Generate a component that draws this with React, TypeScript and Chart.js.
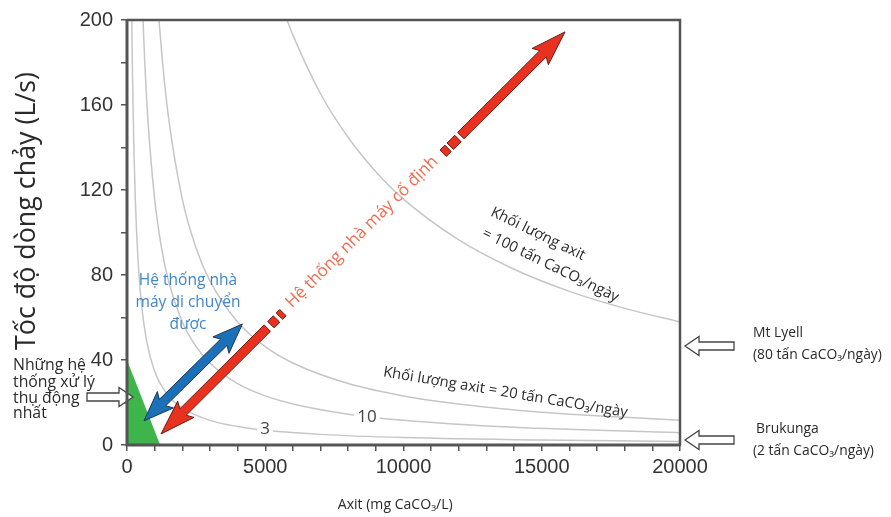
import React, { useEffect, useRef } from 'react';
import { Chart, registerables } from 'chart.js';
Chart.register(...registerables);

// ---------- data ----------
const acidTickLabels = ['0', '5000', '10000', '15000', '20000'];
const flowTickLabels = ['0', '40', '80', '120', '160', '200'];

// constant acid-load curves: acid (mg CaCO3/L) vs flow (L/s)
const load100Acid = [5790, 6000, 7000, 8000, 9000, 10000, 12000, 14000, 16000, 18000, 20000];
const load100Flow = [199.9, 192.9, 165.3, 144.7, 128.6, 115.7, 96.5, 82.7, 72.3, 64.3, 57.9];
const load20Acid = [1158, 1300, 1500, 2000, 2500, 3000, 4000, 5000, 6000, 8000, 10000, 12000, 15000, 20000];
const load20Flow = [199.9, 178.1, 154.3, 115.7, 92.6, 77.2, 57.9, 46.3, 38.6, 28.9, 23.1, 19.3, 15.4, 11.6];
const load10Acid = [579, 650, 750, 1000, 1250, 1500, 2000, 2500, 3000, 4000, 5000, 6000, 8000, 10000, 14000, 20000];
const load10Flow = [199.9, 178.1, 154.3, 115.7, 92.6, 77.2, 57.9, 46.3, 38.6, 28.9, 23.1, 19.3, 14.5, 11.6, 8.3, 5.8];
const load3Acid = [174, 200, 250, 300, 400, 500, 700, 1000, 1500, 2000, 3000, 4000, 5000, 7000, 10000, 15000, 20000];
const load3Flow = [199.6, 173.6, 138.9, 115.7, 86.8, 69.4, 49.6, 34.7, 23.1, 17.4, 11.6, 8.7, 6.9, 5.0, 3.5, 2.3, 1.7];

// passive treatment zone (triangle)
const passiveAcid = [0, 1200];
const passiveFlow = [40, 0];

// arrows: [acid, flow] points
const mobileArrow = [[615, 11.4], [4172, 56.9]];
const fixedLowArrow = [[5074, 55.0], [1230, 5.2]];
const fixedLowDashes = [[[5204, 56.6], [5407, 59.3]], [[5512, 60.6], [5638, 62.3]]];
const fixedHighDashes = [[[11432, 137.3], [11613, 139.6]], [[11689, 140.6], [11971, 144.2]]];
const fixedHighArrow = [[12072, 145.6], [15841, 194.4]];

// reference-site markers (flow at 20000 mg/L)
const mtLyellFlow = 46.6;
const brukungaFlow = 2.35;
const passiveMarkerFlow = 22.6;

// text
const yTitle = 'Tốc độ dòng chảy (L/s)';
const xTitle = 'Axit (mg CaCO₃/L)';
const mobileLines = ['Hệ thống nhà', 'máy di chuyển', 'được'];
const fixedLabel = 'Hệ thống nhà máy cố định';
const load100Lines = ['Khối lượng axit', '= 100 tấn CaCO₃/ngày'];
const load20Label = 'Khối lượng axit = 20 tấn CaCO₃/ngày';
const passiveLines = ['Những hệ', 'thống xử lý', 'thụ động', 'nhất'];
const mtLyellLines = ['Mt Lyell', '(80 tấn CaCO₃/ngày)'];
const brukungaLines = ['Brukunga', '(2 tấn CaCO₃/ngày)'];

const SANS = '"Open Sans", "Noto Sans", "DejaVu Sans", sans-serif';

function fitSize(ctx: CanvasRenderingContext2D, text: string, target: number, family = SANS) {
  ctx.font = `100px ${family}`;
  return (100 * target) / ctx.measureText(text).width;
}

function arrowPath(
  ctx: CanvasRenderingContext2D,
  x1: number, y1: number, x2: number, y2: number,
  sw: number, hw: number, hl: number, startHead: boolean, endHead: boolean, sweep = 0
) {
  const dx = x2 - x1, dy = y2 - y1, L = Math.hypot(dx, dy);
  const ux = dx / L, uy = dy / L, nx = -uy, ny = ux;
  const ax = startHead ? x1 + ux * hl : x1, ay = startHead ? y1 + uy * hl : y1;
  const bx = endHead ? x2 - ux * hl : x2, by = endHead ? y2 - uy * hl : y2;
  ctx.beginPath();
  ctx.moveTo(ax + nx * sw / 2, ay + ny * sw / 2);
  ctx.lineTo(bx + nx * sw / 2, by + ny * sw / 2);
  if (endHead) {
    ctx.lineTo(bx - ux * sweep + nx * hw / 2, by - uy * sweep + ny * hw / 2);
    ctx.lineTo(x2, y2);
    ctx.lineTo(bx - ux * sweep - nx * hw / 2, by - uy * sweep - ny * hw / 2);
  }
  ctx.lineTo(bx - nx * sw / 2, by - ny * sw / 2);
  ctx.lineTo(ax - nx * sw / 2, ay - ny * sw / 2);
  if (startHead) {
    ctx.lineTo(ax + ux * sweep - nx * hw / 2, ay + uy * sweep - ny * hw / 2);
    ctx.lineTo(x1, y1);
    ctx.lineTo(ax + ux * sweep + nx * hw / 2, ay + uy * sweep + ny * hw / 2);
  }
  ctx.closePath();
}

const annotate = {
  id: 'annotate',
  afterDatasetsDraw(chart: any) {
    const { ctx, scales, chartArea } = chart;
    const xs = scales.x, ys = scales.y;
    const P = (a: number, f: number) => [xs.getPixelForValue(a), ys.getPixelForValue(f)];
    ctx.save();

    const text = (t: string, a: number, f: number, size: number, color: string, angleDeg = 0, align: CanvasTextAlign = 'center', bg = false) => {
      const [px, py] = P(a, f);
      ctx.save();
      ctx.translate(px, py);
      ctx.rotate((angleDeg * Math.PI) / 180);
      ctx.font = `${size}px ${SANS}`;
      ctx.textAlign = align;
      ctx.textBaseline = 'middle';
      if (bg) {
        const w = ctx.measureText(t).width;
        ctx.fillStyle = '#ffffff';
        ctx.fillRect(-w / 2 - 3, -size * 0.55, w + 6, size * 1.1);
      }
      ctx.fillStyle = color;
      ctx.fillText(t, 0, 0);
      ctx.restore();
    };

    // curve labels
    text('10', 8680, 13.2, 17, '#444', 0, 'center', true);
    text('3', 4991, 7.5, 17, '#444', 0, 'center', true);

    // load labels
    const s100 = fitSize(ctx, load100Lines[1], 150);
    text(load100Lines[0], 14864, 99.3, s100, '#2a2a2a', 26);
    text(load100Lines[1], 15316, 84.5, s100, '#2a2a2a', 26);
    const s20 = fitSize(ctx, load20Label, 248);
    text(load20Label, 13689, 24.7, s20, '#2a2a2a', 9.5);

    // mobile (blue) double arrow
    {
      const [x1, y1] = P(mobileArrow[0][0], mobileArrow[0][1]);
      const [x2, y2] = P(mobileArrow[1][0], mobileArrow[1][1]);
      arrowPath(ctx, x1, y1, x2, y2, 9, 23, 26, true, true, 4);
      ctx.fillStyle = '#1b70b8';
      ctx.fill();
      ctx.strokeStyle = '#1d3550';
      ctx.lineWidth = 1;
      ctx.stroke();
    }
    const sMob = fitSize(ctx, mobileLines[1], 105);
    text(mobileLines[0], 2206, 77.2, sMob, '#3f86c8');
    text(mobileLines[1], 2206, 66.8, sMob, '#3f86c8');
    text(mobileLines[2], 2206, 56.5, sMob, '#3f86c8');

    // fixed (red) arrows
    const redFill = '#e8321f', redLine = '#6b1c14';
    const drawRed = (p: number[], q: number[], head: boolean) => {
      const [x1, y1] = P(p[0], p[1]);
      const [x2, y2] = P(q[0], q[1]);
      arrowPath(ctx, x1, y1, x2, y2, 9, 23, 31, false, head, 4);
      ctx.fillStyle = redFill;
      ctx.fill();
      ctx.strokeStyle = redLine;
      ctx.lineWidth = 1;
      ctx.stroke();
    };
    drawRed(fixedLowArrow[0], fixedLowArrow[1], true);
    fixedLowDashes.forEach((d) => drawRed(d[0], d[1], false));
    fixedHighDashes.forEach((d) => drawRed(d[0], d[1], false));
    drawRed(fixedHighArrow[0], fixedHighArrow[1], true);
    {
      const [x1, y1] = P(fixedLowArrow[1][0], fixedLowArrow[1][1]);
      const [x2, y2] = P(fixedHighArrow[1][0], fixedHighArrow[1][1]);
      const ang = (Math.atan2(y2 - y1, x2 - x1) * 180) / Math.PI;
      text(fixedLabel, 8499, 100.2, fitSize(ctx, fixedLabel, 207), '#f26b4f', ang);
    }

    // hollow marker arrows
    const hollow = (aTail: number, aTip: number, f: number) => {
      const [x1, y1] = P(aTail, f);
      const [x2, y2] = P(aTip, f);
      arrowPath(ctx, x1, y1, x2, y2, 8, 19, 14, false, true, 0);
      ctx.fillStyle = '#ffffff';
      ctx.fill();
      ctx.strokeStyle = '#444';
      ctx.lineWidth = 1.3;
      ctx.stroke();
    };
    hollow(21953, 20181, mtLyellFlow);
    hollow(21953, 20181, brukungaFlow);
    hollow(-1447, 217, passiveMarkerFlow);

    const sSite = fitSize(ctx, mtLyellLines[1], 129);
    text(mtLyellLines[0], 22640, 52.9, sSite, '#2a2a2a', 0, 'left');
    text(mtLyellLines[1], 22640, 42.2, sSite, '#2a2a2a', 0, 'left');
    text(brukungaLines[0], 22749, 7.6, sSite, '#2a2a2a', 0, 'left');
    text(brukungaLines[1], 22640, -2.8, sSite, '#2a2a2a', 0, 'left');

    const sPass = fitSize(ctx, passiveLines[1], 82);
    text(passiveLines[0], -4123, 37.2, sPass, '#2a2a2a', 0, 'left');
    text(passiveLines[1], -4123, 29.6, sPass, '#2a2a2a', 0, 'left');
    text(passiveLines[2], -4123, 22.1, sPass, '#2a2a2a', 0, 'left');
    text(passiveLines[3], -4123, 14.6, sPass, '#2a2a2a', 0, 'left');

    // axis titles
    text(yTitle, -3617, 110.1, fitSize(ctx, yTitle, 278), '#2a2a2a', -90);
    text(xTitle, 9700, -28.2, fitSize(ctx, xTitle, 115), '#2a2a2a');

    // frame
    ctx.strokeStyle = '#555';
    ctx.lineWidth = 2.5;
    ctx.beginPath();
    ctx.moveTo(chartArea.left, chartArea.top);
    ctx.lineTo(chartArea.right, chartArea.top);
    ctx.lineTo(chartArea.right, chartArea.bottom);
    ctx.stroke();
    ctx.lineWidth = 3;
    ctx.beginPath();
    ctx.moveTo(chartArea.left, chartArea.top - 1);
    ctx.lineTo(chartArea.left, chartArea.bottom);
    ctx.lineTo(chartArea.right + 1, chartArea.bottom);
    ctx.stroke();

    ctx.restore();
  },
};

const curve = (xsArr: number[], ysArr: number[]) => ({
  type: 'line' as const,
  data: xsArr.map((v, i) => ({ x: v, y: ysArr[i] })),
  borderColor: '#c6c6c6',
  borderWidth: 1.5,
  pointRadius: 0,
  cubicInterpolationMode: 'monotone' as const,
  fill: false,
});

export default function App() {
  const ref = useRef<HTMLCanvasElement>(null);
  useEffect(() => {
    const canvas = ref.current!;
    const chart = new Chart(canvas, {
      type: 'line',
      data: {
        datasets: [
          {
            data: passiveAcid.map((v, i) => ({ x: v, y: passiveFlow[i] })),
            borderWidth: 0,
            borderColor: 'rgba(0,0,0,0)',
            backgroundColor: '#3db54a',
            pointRadius: 0,
            fill: 'origin',
          } as any,
          curve(load100Acid, load100Flow),
          curve(load20Acid, load20Flow),
          curve(load10Acid, load10Flow),
          curve(load3Acid, load3Flow),
        ],
      },
      options: {
        responsive: false,
        animation: false,
        layout: { padding: { left: 0, top: 20, right: 211, bottom: 0 } },
        plugins: { legend: { display: false }, tooltip: { enabled: false } },
        scales: {
          x: {
            type: 'linear',
            min: 0,
            max: 20000,
            afterFit: (s: any) => { s.height = 72; },
            border: { display: false },
            grid: { drawOnChartArea: false, drawTicks: true, tickLength: 6, color: '#555', lineWidth: 1.5 },
            ticks: {
              stepSize: 1000,
              autoSkip: false,
              maxRotation: 0,
              padding: 4,
              color: '#333',
              font: { family: '"Liberation Sans", Arial, sans-serif', size: 20 },
              callback: (v: any) => (acidTickLabels.includes(String(v)) ? String(v) : ''),
            },
          },
          y: {
            type: 'linear',
            min: 0,
            max: 200,
            afterFit: (s: any) => { s.width = 127; },
            border: { display: false },
            grid: { drawOnChartArea: false, drawTicks: true, tickLength: 6, color: '#555', lineWidth: 1.5 },
            ticks: {
              stepSize: 20,
              autoSkip: false,
              padding: 8,
              color: '#333',
              font: { family: '"Liberation Sans", Arial, sans-serif', size: 20 },
              callback: (v: any) => (flowTickLabels.includes(String(v)) ? String(v) : ''),
            },
          },
        },
      },
      plugins: [annotate],
    });
    return () => chart.destroy();
  }, []);
  return (
    <div style={{ position: 'fixed', left: 0, top: 0, width: 891, height: 517, background: '#fff' }}>
      <canvas ref={ref} width={891} height={517} style={{ display: 'block', width: 891, height: 517 }} />
    </div>
  );
}
